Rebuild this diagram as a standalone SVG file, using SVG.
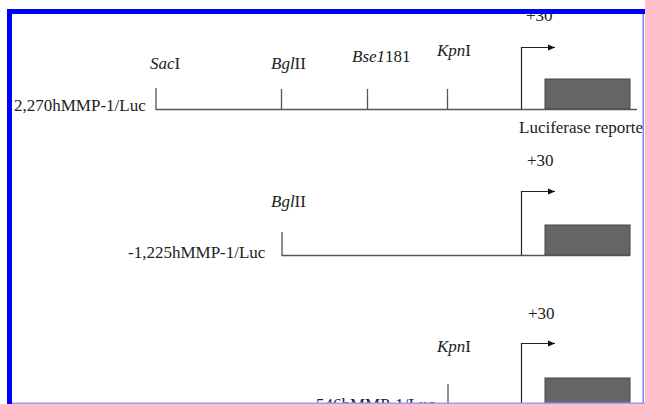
<svg xmlns="http://www.w3.org/2000/svg" width="645" height="404" viewBox="0 0 645 404">
<style>
.t{font-family:'Liberation Serif','DejaVu Serif','Times New Roman',serif;font-size:17px;fill:#222}
.i{font-style:italic}
.ln{stroke:#555;stroke-width:1.3;fill:none}
.pr{stroke:#222;stroke-width:1.2;fill:none}
.bx{fill:#666;stroke:#444;stroke-width:1}
</style>
<defs>
<marker id="ah" markerWidth="8" markerHeight="8" refX="7" refY="4" orient="auto" markerUnits="userSpaceOnUse">
<path d="M0,1 L7,4 L0,7 Z" fill="#111"/>
</marker>
<clipPath id="cp"><rect x="12" y="14" width="631" height="389"/></clipPath>
</defs>
<rect width="645" height="404" fill="#fff"/>
<g clip-path="url(#cp)">
<g id="row1">
<text class="t" x="14" y="111">2,270hMMP-1/Luc</text>
<text class="t" x="150" y="69"><tspan class="i">Sac</tspan>I</text>
<text class="t" x="271" y="69"><tspan class="i">Bgl</tspan>II</text>
<text class="t" x="352" y="62"><tspan class="i">Bse1</tspan>181</text>
<text class="t" x="437" y="56"><tspan class="i">Kpn</tspan>I</text>
<text class="t" x="526" y="21">+30</text>
<text class="t" x="519" y="133">Luciferase reporte</text>
<rect class="bx" x="545" y="79" width="85" height="30"/>
</g>
<g id="row2">
<text class="t" x="128" y="258">-1,225hMMP-1/Luc</text>
<text class="t" x="271" y="207"><tspan class="i">Bgl</tspan>II</text>
<text class="t" x="527" y="166">+30</text>
<rect class="bx" x="545" y="225" width="85" height="30"/>
</g>
<g id="row3">
<text class="t" x="316" y="410">546hMMP-1/Luc</text>
<text class="t" x="437" y="352"><tspan class="i">Kpn</tspan>I</text>
<text class="t" x="528" y="319">+30</text>
<rect class="bx" x="545" y="378" width="85" height="31"/>
</g>
<g id="connectors">
<path class="ln" d="M156,88 V109.5 H637"/>
<path class="ln" d="M281.5,89 V109"/>
<path class="ln" d="M367.5,89 V109"/>
<path class="ln" d="M447.5,89 V109"/>
<path class="pr" d="M521.5,109 V47.5 H555" marker-end="url(#ah)"/>
<path class="ln" d="M282,232 V255.5 H630"/>
<path class="pr" d="M521.5,255 V191.5 H555" marker-end="url(#ah)"/>
<path class="ln" d="M448,384 V410"/>
<path class="pr" d="M521.5,410 V343.5 H555" marker-end="url(#ah)"/>
</g>
</g>
<g id="border">
<rect x="7" y="9" width="638" height="5" fill="#0000ff"/>
<rect x="7" y="9" width="5" height="395" fill="#0000ff"/>
<rect x="642.5" y="14" width="1.5" height="390" fill="#8080ff"/>
<rect x="12" y="402.5" width="633" height="1.5" fill="#9a9aff"/>
</g>
</svg>
